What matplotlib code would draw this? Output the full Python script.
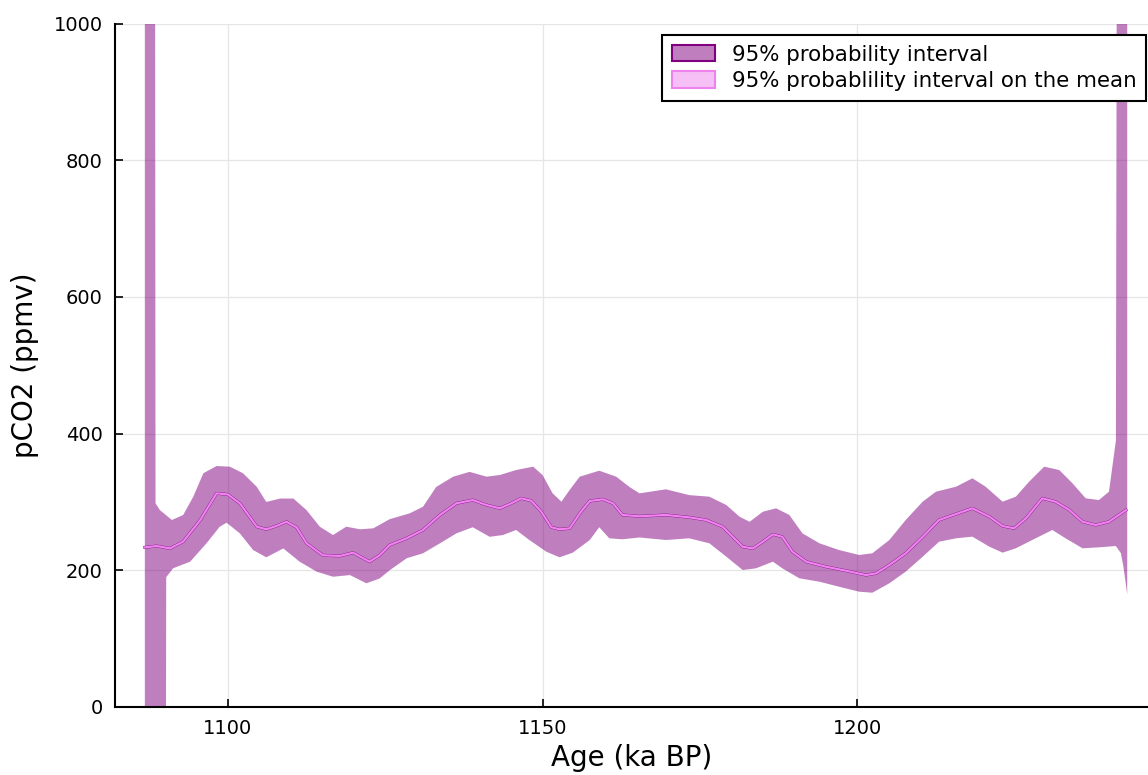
import numpy as np
import matplotlib
matplotlib.use("Agg")
import matplotlib.pyplot as plt
from matplotlib.patches import Patch

# posterior summary of pCO2 against age
age_mean = [1086.8, 1088.7, 1090.8, 1092.9, 1095.6, 1098.2, 1100.0, 1101.9, 1104.6, 1106.1,
            1107.7, 1109.3, 1110.9, 1112.5, 1115.1, 1117.8, 1119.9, 1122.5, 1124.1, 1125.7,
            1128.4, 1131.0, 1133.7, 1136.3, 1138.9, 1141.1, 1143.2, 1144.8, 1146.6, 1148.2,
            1149.8, 1151.4, 1152.7, 1154.3, 1156.1, 1157.5, 1159.6, 1161.2, 1162.7, 1165.4,
            1169.6, 1173.3, 1176.0, 1178.6, 1180.2, 1181.8, 1183.4, 1185.0, 1186.6, 1188.1,
            1189.7, 1191.9, 1195.0, 1198.2, 1201.4, 1203.0, 1205.1, 1207.7, 1210.4, 1213.0,
            1215.7, 1218.3, 1221.0, 1223.1, 1224.9, 1226.8, 1229.4, 1231.5, 1233.7, 1235.8,
            1237.9, 1240.0, 1242.7]
pco2_mean = [233.6, 235.5, 232.0, 242.0, 273.6, 312.6, 311.0, 298.0, 263.8, 260.0,
             264.8, 271.0, 263.0, 239.5, 222.0, 221.0, 225.8, 212.6, 222.0, 237.0,
             246.8, 259.0, 281.0, 298.0, 302.8, 295.5, 290.7, 297.0, 305.3, 301.8,
             285.7, 263.0, 260.0, 261.4, 285.7, 301.4, 303.9, 298.0, 281.0, 279.0,
             281.0, 277.5, 273.6, 263.8, 249.0, 234.5, 232.0, 241.8, 252.6, 249.0,
             227.2, 212.6, 205.3, 199.4, 193.0, 195.6, 207.8, 224.9, 249.0, 273.6,
             282.4, 290.7, 278.4, 264.8, 261.4, 276.0, 305.3, 300.4, 288.2, 271.1,
             266.3, 271.1, 288.2]

# upper edge of the 95% interval (blows up at both ends of the record)
age_upper = [1086.8, 1088.4, 1088.5, 1089.2, 1091.1, 1092.9, 1094.5, 1096.1, 1098.2, 1100.3,
             1102.4, 1104.6, 1106.1, 1108.3, 1110.4, 1112.5, 1114.6, 1116.7, 1118.8, 1121.0,
             1123.1, 1125.7, 1128.9, 1131.0, 1133.1, 1135.8, 1138.4, 1141.1, 1143.2, 1145.8,
             1148.5, 1150.0, 1151.6, 1153.0, 1154.3, 1155.9, 1159.0, 1161.7, 1163.8, 1165.4,
             1169.6, 1173.3, 1176.5, 1179.2, 1181.3, 1182.9, 1185.0, 1187.1, 1189.2, 1191.3,
             1194.0, 1197.1, 1200.3, 1202.4, 1205.1, 1207.7, 1210.4, 1212.5, 1215.7, 1218.3,
             1220.4, 1223.1, 1225.2, 1227.3, 1229.7, 1232.1, 1234.2, 1236.3, 1238.4, 1240.0,
             1241.1, 1241.3, 1242.9]
pco2_upper = [1400.0, 1400.0, 298.0, 288.0, 273.6, 281.0, 307.7, 342.0, 352.6, 351.6,
              342.0, 322.0, 300.0, 305.0, 305.0, 288.0, 263.8, 251.6, 263.8, 260.0,
              261.4, 274.8, 283.4, 293.0, 322.0, 337.0, 344.0, 337.0, 339.4, 346.7,
              351.6, 339.4, 312.6, 300.4, 317.5, 337.0, 345.7, 337.0, 322.0, 312.6,
              318.5, 310.0, 307.7, 295.5, 278.4, 271.0, 285.7, 290.7, 281.0, 254.0,
              239.5, 229.7, 222.4, 224.9, 244.3, 273.6, 300.4, 315.0, 322.3, 334.6,
              322.3, 300.4, 307.7, 329.6, 351.6, 346.7, 327.3, 305.3, 302.8, 315.0,
              390.0, 1400.0, 1400.0]

# lower edge of the 95% interval
age_lower = [1086.8, 1090.1, 1090.2, 1091.3, 1094.0, 1096.6, 1098.7, 1099.8, 1101.9, 1104.0,
             1106.1, 1108.8, 1111.4, 1114.1, 1116.7, 1119.4, 1122.0, 1124.1, 1125.7, 1128.4,
             1131.0, 1133.7, 1136.3, 1138.9, 1141.6, 1143.7, 1145.8, 1147.9, 1150.6, 1152.7,
             1154.8, 1157.5, 1159.0, 1160.6, 1162.7, 1165.4, 1169.6, 1173.3, 1176.5, 1179.2,
             1181.8, 1183.9, 1186.6, 1188.1, 1190.8, 1194.0, 1197.1, 1200.3, 1202.4, 1205.1,
             1207.7, 1210.4, 1213.0, 1215.7, 1218.3, 1221.0, 1223.1, 1225.2, 1227.8, 1231.0,
             1233.1, 1235.8, 1238.4, 1241.1, 1241.9, 1242.3, 1242.9]
pco2_lower = [-300.0, -300.0, 190.0, 203.0, 212.6, 239.5, 263.8, 269.6, 254.0, 229.7,
              219.0, 232.0, 212.6, 198.0, 190.6, 193.0, 181.0, 188.0, 200.0, 217.6,
              224.9, 239.5, 254.0, 263.0, 249.0, 251.6, 259.0, 244.3, 227.2, 219.0,
              225.8, 244.3, 263.0, 246.8, 245.4, 248.0, 244.3, 246.8, 239.5, 219.9,
              200.4, 202.9, 212.6, 202.9, 188.3, 183.3, 176.0, 168.7, 167.2, 181.0,
              198.0, 219.9, 241.8, 246.8, 249.2, 234.5, 225.8, 232.2, 244.3, 259.0,
              246.8, 232.2, 233.6, 235.5, 224.9, 205.0, 165.0]

xticks = [1100, 1150, 1200]
yticks = [0, 200, 400, 600, 800, 1000]

BAND = (0.5, 0.0, 0.5, 0.5)      # purple, half transparent
MEAN_BAND = (0.933, 0.51, 0.933, 0.5)  # violet, half transparent


def main():
    plt.rcParams["font.family"] = "DejaVu Sans"
    fig = plt.figure(figsize=(11.48, 7.75), dpi=100)
    ax = fig.add_axes([115 / 1148, 68 / 775, 1 - 115 / 1148, (707 - 23.5) / 775])

    poly_x = np.r_[age_upper, age_lower[::-1]]
    poly_y = np.r_[pco2_upper, pco2_lower[::-1]]
    ax.fill(poly_x, poly_y, color=BAND, lw=0, zorder=2)

    ax.plot(age_mean, pco2_mean, color="#7a147a", lw=2.1, zorder=3)
    ax.plot(age_mean, pco2_mean, color="#f282f2", lw=1.6, zorder=4)

    ax.set_xlim(1082.06, 1246.2)
    ax.set_ylim(0, 1000)
    ax.set_xticks(xticks)
    ax.set_yticks(yticks)
    ax.tick_params(direction="in", length=6, width=1.2, labelsize=14, pad=9,
                   colors="black")
    ax.grid(True, color="#e6e6e6", lw=0.9, zorder=0)
    ax.set_axisbelow(True)
    for side in ("top", "right"):
        ax.spines[side].set_visible(False)
    for side in ("left", "bottom"):
        ax.spines[side].set_linewidth(1.5)

    ax.set_xlabel("Age (ka BP)", fontsize=20, labelpad=4)
    ax.set_ylabel("pCO2 (ppmv)", fontsize=20, labelpad=10)

    handles = [
        Patch(facecolor=BAND, edgecolor="#800080", lw=1.5),
        Patch(facecolor=MEAN_BAND, edgecolor="#ee82ee", lw=1.5),
    ]
    labels = ["95% probability interval", "95% probablility interval on the mean"]
    leg = ax.legend(handles, labels, loc="upper right",
                    bbox_to_anchor=(1146 / 1148, (775 - 35) / 775),
                    bbox_transform=fig.transFigure, borderaxespad=0,
                    fontsize=15.4, fancybox=False, framealpha=1, edgecolor="black",
                    handlelength=2.0, handleheight=0.8, labelspacing=0.3,
                    borderpad=0.45, handletextpad=0.8)
    leg.get_frame().set_linewidth(1.5)

    fig.savefig("out.png", dpi=100)
    plt.close(fig)


if __name__ == "__main__":
    main()
